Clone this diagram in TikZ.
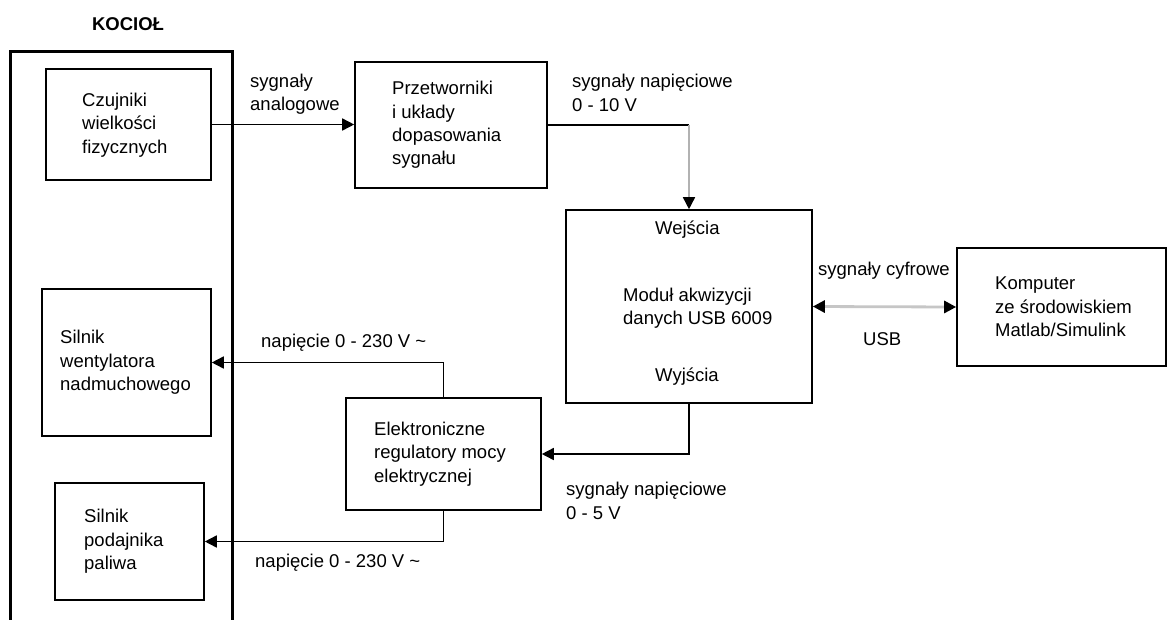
\documentclass[tikz,border=0pt]{standalone}
\usepackage{fontspec}
\setmainfont{Liberation Sans}
\usetikzlibrary{arrows.meta}
\begin{document}
\begin{tikzpicture}[x=1pt,y=-1pt,
  box/.style={draw, line width=1.6pt, inner sep=0pt},
  lbl/.style={anchor=west, inner sep=0pt, align=left, font=\fontsize{18.5}{23.3}\selectfont},
  conn/.style={line width=1.6pt, -{Triangle[length=12pt,width=12pt,color=black]}},
]
\path[use as bounding box, clip] (0,0) rectangle (1168,619);
\fill[white] (0,0) rectangle (1168,619);

% boxes
\node[box, line width=3pt, minimum width=222pt, minimum height=600pt] (kociol) at (121,351) {};
\node[box, minimum width=165pt, minimum height=111pt] (czuj) at (128.5,124.5) {};
\node[box, minimum width=192pt, minimum height=126pt] (prz) at (451,125) {};
\node[box, minimum width=246pt, minimum height=193pt] (mod) at (689,306.5) {};
\node[box, minimum width=209pt, minimum height=118pt] (komp) at (1061.5,307) {};
\node[box, minimum width=195pt, minimum height=112pt] (ele) at (443.5,454) {};
\node[box, minimum width=169pt, minimum height=147pt] (wen) at (126.5,362.5) {};
\node[box, minimum width=149pt, minimum height=117pt] (pod) at (129.5,541.5) {};

% connectors
\draw[conn] (czuj.east) -- (czuj.east -| prz.west);
\coordinate (c1) at (prz.east -| mod.north);
\draw[line width=1.6pt] (prz.east) -- (c1);
\draw[conn, draw=gray!60] (c1) -- (mod.north);
\draw[conn] (mod.south) |- (ele.east);
\draw[conn] (ele.north) |- (wen.east);
\draw[conn] (ele.south) |- (pod.east);
\draw[line width=2.8pt, gray!45, {Triangle[length=12pt,width=12pt,color=black]}-{Triangle[length=12pt,width=12pt,color=black]}] (mod.east) -- (komp.west);

% texts
\node[lbl, anchor=center, font=\fontsize{18.5}{23.3}\selectfont\bfseries] (tkoc) at (128,24) {KOCIOŁ};
\node[lbl] (tczuj) at (82,125) {Czujniki\\wielkości\\fizycznych};
\node[lbl] (tprz) at (392,125) {Przetworniki\\i układy\\dopasowania\\sygnału};
\node[lbl] (tana) at (250,94.5) {sygnały\\analogowe};
\node[lbl] (tnap1) at (572,93) {sygnały napięciowe\\0 - 10 V};
\node[lbl] (twej) at (655,230) {Wejścia};
\node[lbl] (tmod) at (623,308) {Moduł akwizycji\\danych USB 6009};
\node[lbl] (twyj) at (655,377) {Wyjścia};
\node[lbl] (tkomp) at (995,307) {Komputer\\ze środowiskiem\\Matlab/Simulink};
\node[lbl] (tcyf) at (818,271) {sygnały cyfrowe};
\node[lbl] (tusb) at (863,339) {USB};
\node[lbl] (tele) at (374,454) {Elektroniczne\\regulatory mocy\\elektrycznej};
\node[lbl] (tnap2) at (566,501) {sygnały napięciowe\\0 - 5 V};
\node[lbl] (tv1) at (261,343) {napięcie 0 - 230 V \textasciitilde};
\node[lbl] (tv2) at (255,563) {napięcie 0 - 230 V \textasciitilde};
\node[lbl] (twen) at (60,362.5) {Silnik\\wentylatora\\nadmuchowego};
\node[lbl] (tpod) at (84,541.5) {Silnik\\podajnika\\paliwa};
\end{tikzpicture}
\end{document}
